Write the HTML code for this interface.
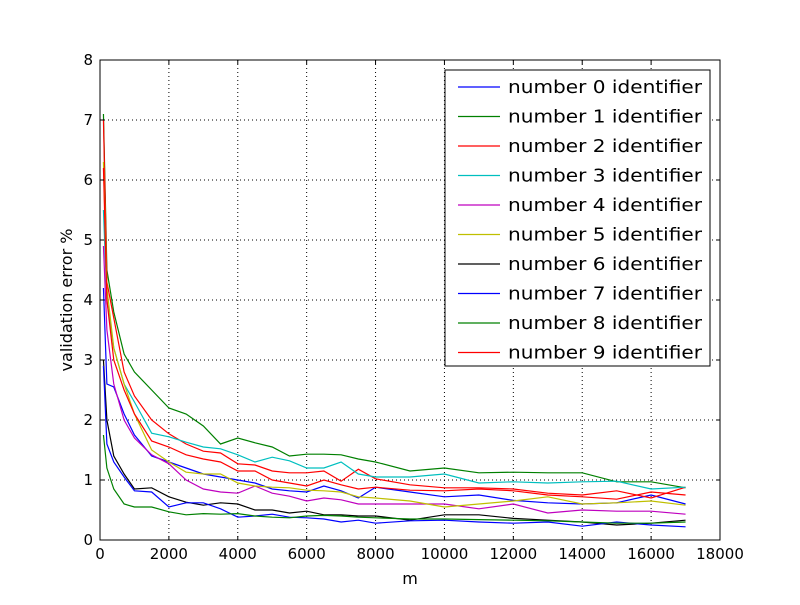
<!DOCTYPE html>
<html><head><meta charset="utf-8"><style>
body{margin:0;background:#fff;}
svg{font-family:"DejaVu Sans","Liberation Sans",sans-serif;}
</style></head><body>
<svg id="chart" width="800" height="600" xmlns="http://www.w3.org/2000/svg">
<rect width="800" height="600" fill="#fff"/>
<g id="grid"></g>
<g id="lines"></g>
<rect x="100" y="60" width="620" height="480" fill="none" stroke="#000" stroke-width="1"/>
<g id="ticks"></g>
<text x="410" y="584" font-size="16" text-anchor="middle">m</text>
<text transform="translate(72,300) rotate(-90)" font-size="16" text-anchor="middle">validation error %</text>
<g id="legend"></g>
</svg>
<script>
const xs=[100,200,400,700,1000,1500,2000,2500,3000,3500,4000,4500,5000,5500,6000,6500,7000,7500,8000,9000,10000,11000,12000,13000,14000,15000,16000,17000];
const s0=[4.2,2.6,2.55,2.1,1.75,1.4,1.3,1.2,1.1,1.05,1.0,0.95,0.85,0.82,0.8,0.9,0.82,0.7,0.88,0.8,0.72,0.75,0.66,0.62,0.6,0.62,0.75,0.6];
const s1=[7.1,4.5,3.8,3.1,2.8,2.5,2.2,2.1,1.9,1.6,1.7,1.62,1.55,1.4,1.43,1.43,1.42,1.35,1.3,1.15,1.2,1.12,1.13,1.12,1.12,0.97,0.97,0.87];
const s2=[7.0,4.3,3.7,2.8,2.4,2.0,1.77,1.6,1.48,1.45,1.27,1.25,1.15,1.12,1.12,1.15,0.98,1.18,1.02,0.92,0.87,0.87,0.85,0.78,0.75,0.82,0.7,0.88];
const s3=[5.5,4.0,3.2,2.6,2.3,1.78,1.72,1.63,1.55,1.52,1.42,1.3,1.38,1.32,1.2,1.2,1.3,1.1,1.05,1.05,1.1,0.95,0.97,0.95,0.97,0.98,0.85,0.88];
const s4=[4.9,3.5,2.6,2.0,1.7,1.42,1.27,1.0,0.85,0.8,0.78,0.9,0.78,0.73,0.65,0.7,0.67,0.6,0.6,0.6,0.6,0.52,0.6,0.45,0.5,0.48,0.48,0.43];
const s5=[6.3,4.2,3.2,2.6,2.1,1.5,1.3,1.13,1.1,1.1,0.95,0.9,0.88,0.87,0.83,0.82,0.8,0.72,0.7,0.65,0.55,0.6,0.65,0.72,0.6,0.62,0.65,0.58];
const s6=[3.0,2.0,1.4,1.1,0.85,0.87,0.72,0.63,0.58,0.62,0.6,0.5,0.5,0.45,0.48,0.42,0.42,0.4,0.4,0.33,0.42,0.42,0.36,0.33,0.3,0.25,0.28,0.33];
const s7=[2.9,1.6,1.3,1.05,0.82,0.8,0.55,0.62,0.62,0.52,0.38,0.4,0.43,0.38,0.37,0.35,0.3,0.33,0.28,0.32,0.33,0.3,0.28,0.3,0.23,0.3,0.25,0.22];
const s8=[1.75,1.2,0.85,0.6,0.55,0.55,0.47,0.42,0.44,0.43,0.44,0.4,0.38,0.37,0.4,0.41,0.4,0.38,0.37,0.35,0.35,0.34,0.33,0.32,0.3,0.28,0.28,0.3];
const s9=[6.2,4.0,3.0,2.5,2.1,1.65,1.55,1.42,1.35,1.3,1.15,1.15,1.0,0.95,0.9,1.0,0.92,0.85,0.88,0.83,0.82,0.85,0.82,0.75,0.72,0.68,0.8,0.75];
const series=[s0,s1,s2,s3,s4,s5,s6,s7,s8,s9];
const colors=['#0000ff','#008000','#ff0000','#00bfbf','#bf00bf','#bfbf00','#000000','#0000ff','#008000','#ff0000'];
const xTicks=[0,2000,4000,6000,8000,10000,12000,14000,16000,18000];
const yTicks=[0,1,2,3,4,5,6,7,8];
const NS='http://www.w3.org/2000/svg';
const X=v=>100+v/18000*620, Y=v=>540-v/8*480;
function mk(t,a,p){const e=document.createElementNS(NS,t);for(const k in a)e.setAttribute(k,a[k]);p.appendChild(e);return e;}
const grid=document.getElementById('grid'),ticks=document.getElementById('ticks'),lines=document.getElementById('lines'),leg=document.getElementById('legend');
xTicks.forEach(t=>{const x=X(t);
 if(t>0&&t<18000){const g=mk('line',{x1:x,x2:x,y1:60,y2:540,stroke:'#000','stroke-dasharray':'1,3','stroke-width':1},grid);}
 mk('line',{x1:x,x2:x,y1:540,y2:536,stroke:'#000'},ticks);mk('line',{x1:x,x2:x,y1:60,y2:64,stroke:'#000'},ticks);
 const l=mk('text',{x:x,y:559,'font-size':15,'text-anchor':'middle'},ticks);l.textContent=t;
 });
yTicks.forEach(t=>{const y=Y(t);
 if(t>0&&t<8){const g=mk('line',{x1:100,x2:720,y1:y,y2:y,stroke:'#000','stroke-dasharray':'1,3','stroke-width':1},grid);}
 mk('line',{x1:100,x2:104,y1:y,y2:y,stroke:'#000'},ticks);mk('line',{x1:720,x2:716,y1:y,y2:y,stroke:'#000'},ticks);
 const l=mk('text',{x:93,y:y+5,'font-size':15,'text-anchor':'end'},ticks);l.textContent=t;
 });
series.forEach((s,i)=>{
 const p=mk('polyline',{points:s.map((v,j)=>X(xs[j])+','+Y(v)).join(' '),fill:'none',stroke:colors[i],'stroke-width':1.2},lines);
 
 });
const box=mk('rect',{x:445,y:70,width:265,height:296,fill:'#fff',stroke:'#000'},leg);


series.forEach((s,i)=>{const y=87+i*29.5;
 const g=mk('g',{},leg);
 
 
 mk('line',{x1:458,x2:500,y1:y,y2:y,stroke:colors[i],'stroke-width':1.2},g);
 const t=mk('text',{x:508,y:y+6,'font-size':18,textLength:194,lengthAdjust:'spacingAndGlyphs'},g);t.textContent='number '+i+' identifier';});
</script>
</body></html>
